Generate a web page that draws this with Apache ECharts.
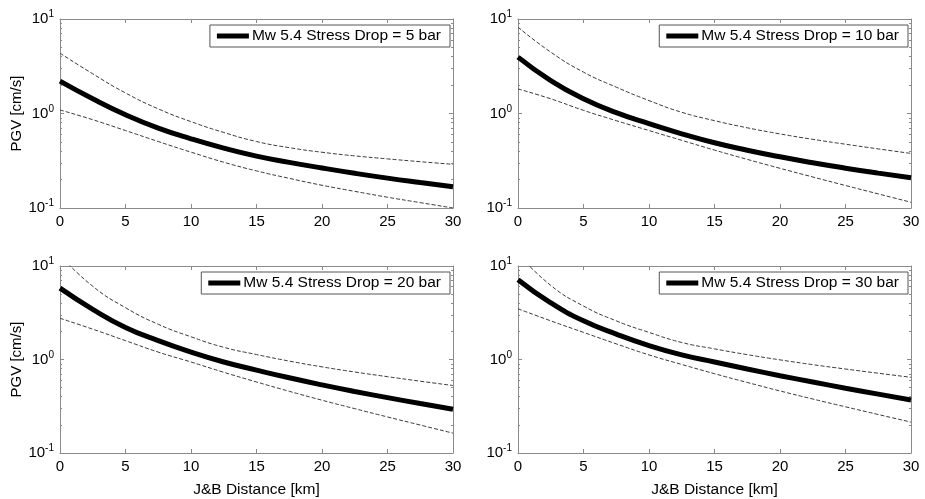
<!DOCTYPE html>
<html lang="en">
<head>
<meta charset="utf-8" />
<title>PGV vs J&amp;B distance</title>
<style>
  html, body { margin: 0; padding: 0; background: #fff; }
  #chart { width: 925px; height: 499px; }
</style>
</head>
<body>
<div id="chart"></div>
<script src="https://cdn.jsdelivr.net/npm/echarts@6/dist/echarts.min.js"></script>
<script>
// J&B distance [km] where the curves were read
const distances = [0, 2.5, 5, 7.5, 10, 12.5, 15, 17.5, 20, 22.5, 25, 27.5, 30];

// PGV [cm/s] : median and the two dashed bounds, one set per stress drop
const median5 = [2.2, 1.43, 0.97, 0.70, 0.54, 0.43, 0.354, 0.304, 0.265, 0.233, 0.207, 0.186, 0.168];
const upper5  = [4.35, 2.63, 1.65, 1.12, 0.82, 0.63, 0.505, 0.435, 0.389, 0.356, 0.331, 0.309, 0.29];
const lower5  = [1.09, 0.86, 0.66, 0.505, 0.39, 0.305, 0.247, 0.206, 0.174, 0.15, 0.13, 0.114, 0.10];

const median10 = [3.95, 2.23, 1.43, 1.02, 0.78, 0.61, 0.49, 0.409, 0.348, 0.301, 0.264, 0.234, 0.209];
const upper10  = [8.2, 4.46, 2.74, 1.90, 1.37, 1.03, 0.84, 0.706, 0.608, 0.533, 0.473, 0.422, 0.378];
const lower10  = [1.82, 1.43, 1.08, 0.84, 0.66, 0.52, 0.41, 0.327, 0.263, 0.213, 0.173, 0.141, 0.115];

const median20 = [5.8, 3.44, 2.2, 1.59, 1.2, 0.94, 0.77, 0.637, 0.535, 0.455, 0.391, 0.338, 0.294];
const upper20  = [13, 6.07, 3.58, 2.38, 1.75, 1.35, 1.13, 0.962, 0.834, 0.735, 0.655, 0.586, 0.527];
const lower20  = [2.76, 2.11, 1.59, 1.2, 0.94, 0.73, 0.575, 0.457, 0.367, 0.298, 0.243, 0.199, 0.163];

const median30 = [7.14, 4.04, 2.59, 1.87, 1.41, 1.12, 0.94, 0.791, 0.671, 0.574, 0.493, 0.426, 0.369];
const upper30  = [13.5, 6.2, 3.73, 2.59, 1.95, 1.52, 1.30, 1.127, 0.991, 0.881, 0.791, 0.713, 0.645];
const lower30  = [3.49, 2.59, 1.95, 1.47, 1.12, 0.885, 0.705, 0.568, 0.461, 0.378, 0.312, 0.258, 0.214];

const legendLabels = [
    "Mw 5.4 Stress Drop = 5 bar",
    "Mw 5.4 Stress Drop = 10 bar",
    "Mw 5.4 Stress Drop = 20 bar",
    "Mw 5.4 Stress Drop = 30 bar"
];
const xTicks = [0, 5, 10, 15, 20, 25, 30];
const yMajor = [0.1, 1, 10];
const yMinor = [0.2, 0.3, 0.4, 0.5, 0.6, 0.7, 0.8, 0.9, 2, 3, 4, 5, 6, 7, 8, 9];

const panels = [
    { med: median5,  up: upper5,  lo: lower5  },
    { med: median10, up: upper10, lo: lower10 },
    { med: median20, up: upper20, lo: lower20 },
    { med: median30, up: upper30, lo: lower30 }
];

const FONT = "'Liberation Sans', Arial, Helvetica, sans-serif";
const AXIS_COLOR = "#8a8a8a";

// panel boxes in pixels
const boxes = [
    { left: 60,  top: 19,  width: 393, height: 189 },
    { left: 518, top: 19,  width: 393, height: 189 },
    { left: 60,  top: 266, width: 393, height: 190 },
    { left: 518, top: 266, width: 393, height: 190 }
];

const toPairs = (vals) => distances.map((d, k) => [d, vals[k]]);

let grids = [], xAxes = [], yAxes = [], series = [], legends = [];

boxes.forEach((b, i) => {
    grids.push({ left: b.left, top: b.top, width: b.width, height: b.height });

    const bottomRow = i >= 2;
    const leftCol = i % 2 === 0;

    // bottom x axis (labels) and mirrored top axis
    ["bottom", "top"].forEach((pos) => {
        xAxes.push({
            gridIndex: i,
            type: "value",
            position: pos,
            min: 0, max: 30, interval: 5,
            name: (pos === "bottom" && bottomRow) ? "J&B Distance [km]" : "",
            nameLocation: "middle",
            nameGap: 29,
            nameTextStyle: { fontFamily: FONT, fontSize: 15.5, color: "#000" },
            axisLine: { show: true, onZero: false, lineStyle: { color: AXIS_COLOR, width: 1 } },
            axisTick: { show: true, inside: true, length: 4, lineStyle: { color: AXIS_COLOR } },
            axisLabel: {
                show: pos === "bottom",
                margin: 6,
                fontFamily: FONT, fontSize: 15, color: "#000",
                customValues: xTicks
            },
            splitLine: { show: false }
        });
    });

    // y axes: left (labels + major ticks), left minor, right major, right minor
    [["left", true], ["left", false], ["right", true], ["right", false]].forEach(([pos, major]) => {
        yAxes.push({
            gridIndex: i,
            type: "log",
            logBase: 10,
            position: pos,
            min: 0.1, max: 10,
            name: (pos === "left" && major && leftCol) ? "PGV [cm/s]" : "",
            nameLocation: "middle",
            nameGap: 36,
            nameTextStyle: { fontFamily: FONT, fontSize: 15, color: "#000" },
            axisLine: { show: major, onZero: false, lineStyle: { color: AXIS_COLOR, width: 1 } },
            axisTick: {
                show: true, inside: true,
                length: major ? 4 : 2,
                customValues: major ? yMajor : yMinor,
                lineStyle: { color: AXIS_COLOR }
            },
            axisLabel: {
                show: pos === "left" && major,
                customValues: yMajor,
                margin: 6,
                formatter: (v) => "{b|10}{s|" + Math.round(Math.log10(v)) + "}",
                rich: {
                    b: { fontFamily: FONT, fontSize: 15, color: "#000" },
                    s: { fontFamily: FONT, fontSize: 10, color: "#000", padding: [0, 0, 9, 0] }
                }
            },
            splitLine: { show: false }
        });
    });

    const p = panels[i];
    const xi = i * 2, yi = i * 4;
    const dashed = { color: "#3a3a3a", width: 1, type: [4, 2] };
    series.push({
        name: legendLabels[i], type: "line", xAxisIndex: xi, yAxisIndex: yi,
        data: toPairs(p.med), showSymbol: false, smooth: 0.5,
        lineStyle: { color: "#000", width: 5 }, itemStyle: { color: "#000" }, z: 3
    });
    series.push({
        name: "upper " + i, type: "line", xAxisIndex: xi, yAxisIndex: yi,
        data: toPairs(p.up), showSymbol: false, smooth: 0.5,
        lineStyle: dashed, itemStyle: { color: "#3a3a3a" }, z: 2
    });
    series.push({
        name: "lower " + i, type: "line", xAxisIndex: xi, yAxisIndex: yi,
        data: toPairs(p.lo), showSymbol: false, smooth: 0.5,
        lineStyle: dashed, itemStyle: { color: "#3a3a3a" }, z: 2
    });

    legends.push({
        data: [legendLabels[i]],
        right: 925 - (b.left + b.width - 3),
        top: b.top + 6,
        orient: "horizontal",
        backgroundColor: "#fff",
        borderColor: "#555",
        borderWidth: 1,
        borderRadius: 0,
        padding: [3, 9, 3, 7],
        icon: "rect",
        itemWidth: 32,
        itemHeight: 5,
        itemGap: 0,
        itemStyle: { color: "#000" },
        textStyle: { fontFamily: FONT, fontSize: 15.5, color: "#000", padding: [0, 0, 0, -2] },
        selectedMode: false
    });
});

const chart = echarts.init(document.getElementById("chart"), null, { renderer: "canvas" });
chart.setOption({
    animation: false,
    backgroundColor: "#fff",
    grid: grids,
    xAxis: xAxes,
    yAxis: yAxes,
    legend: legends,
    series: series
});
</script>
</body>
</html>
